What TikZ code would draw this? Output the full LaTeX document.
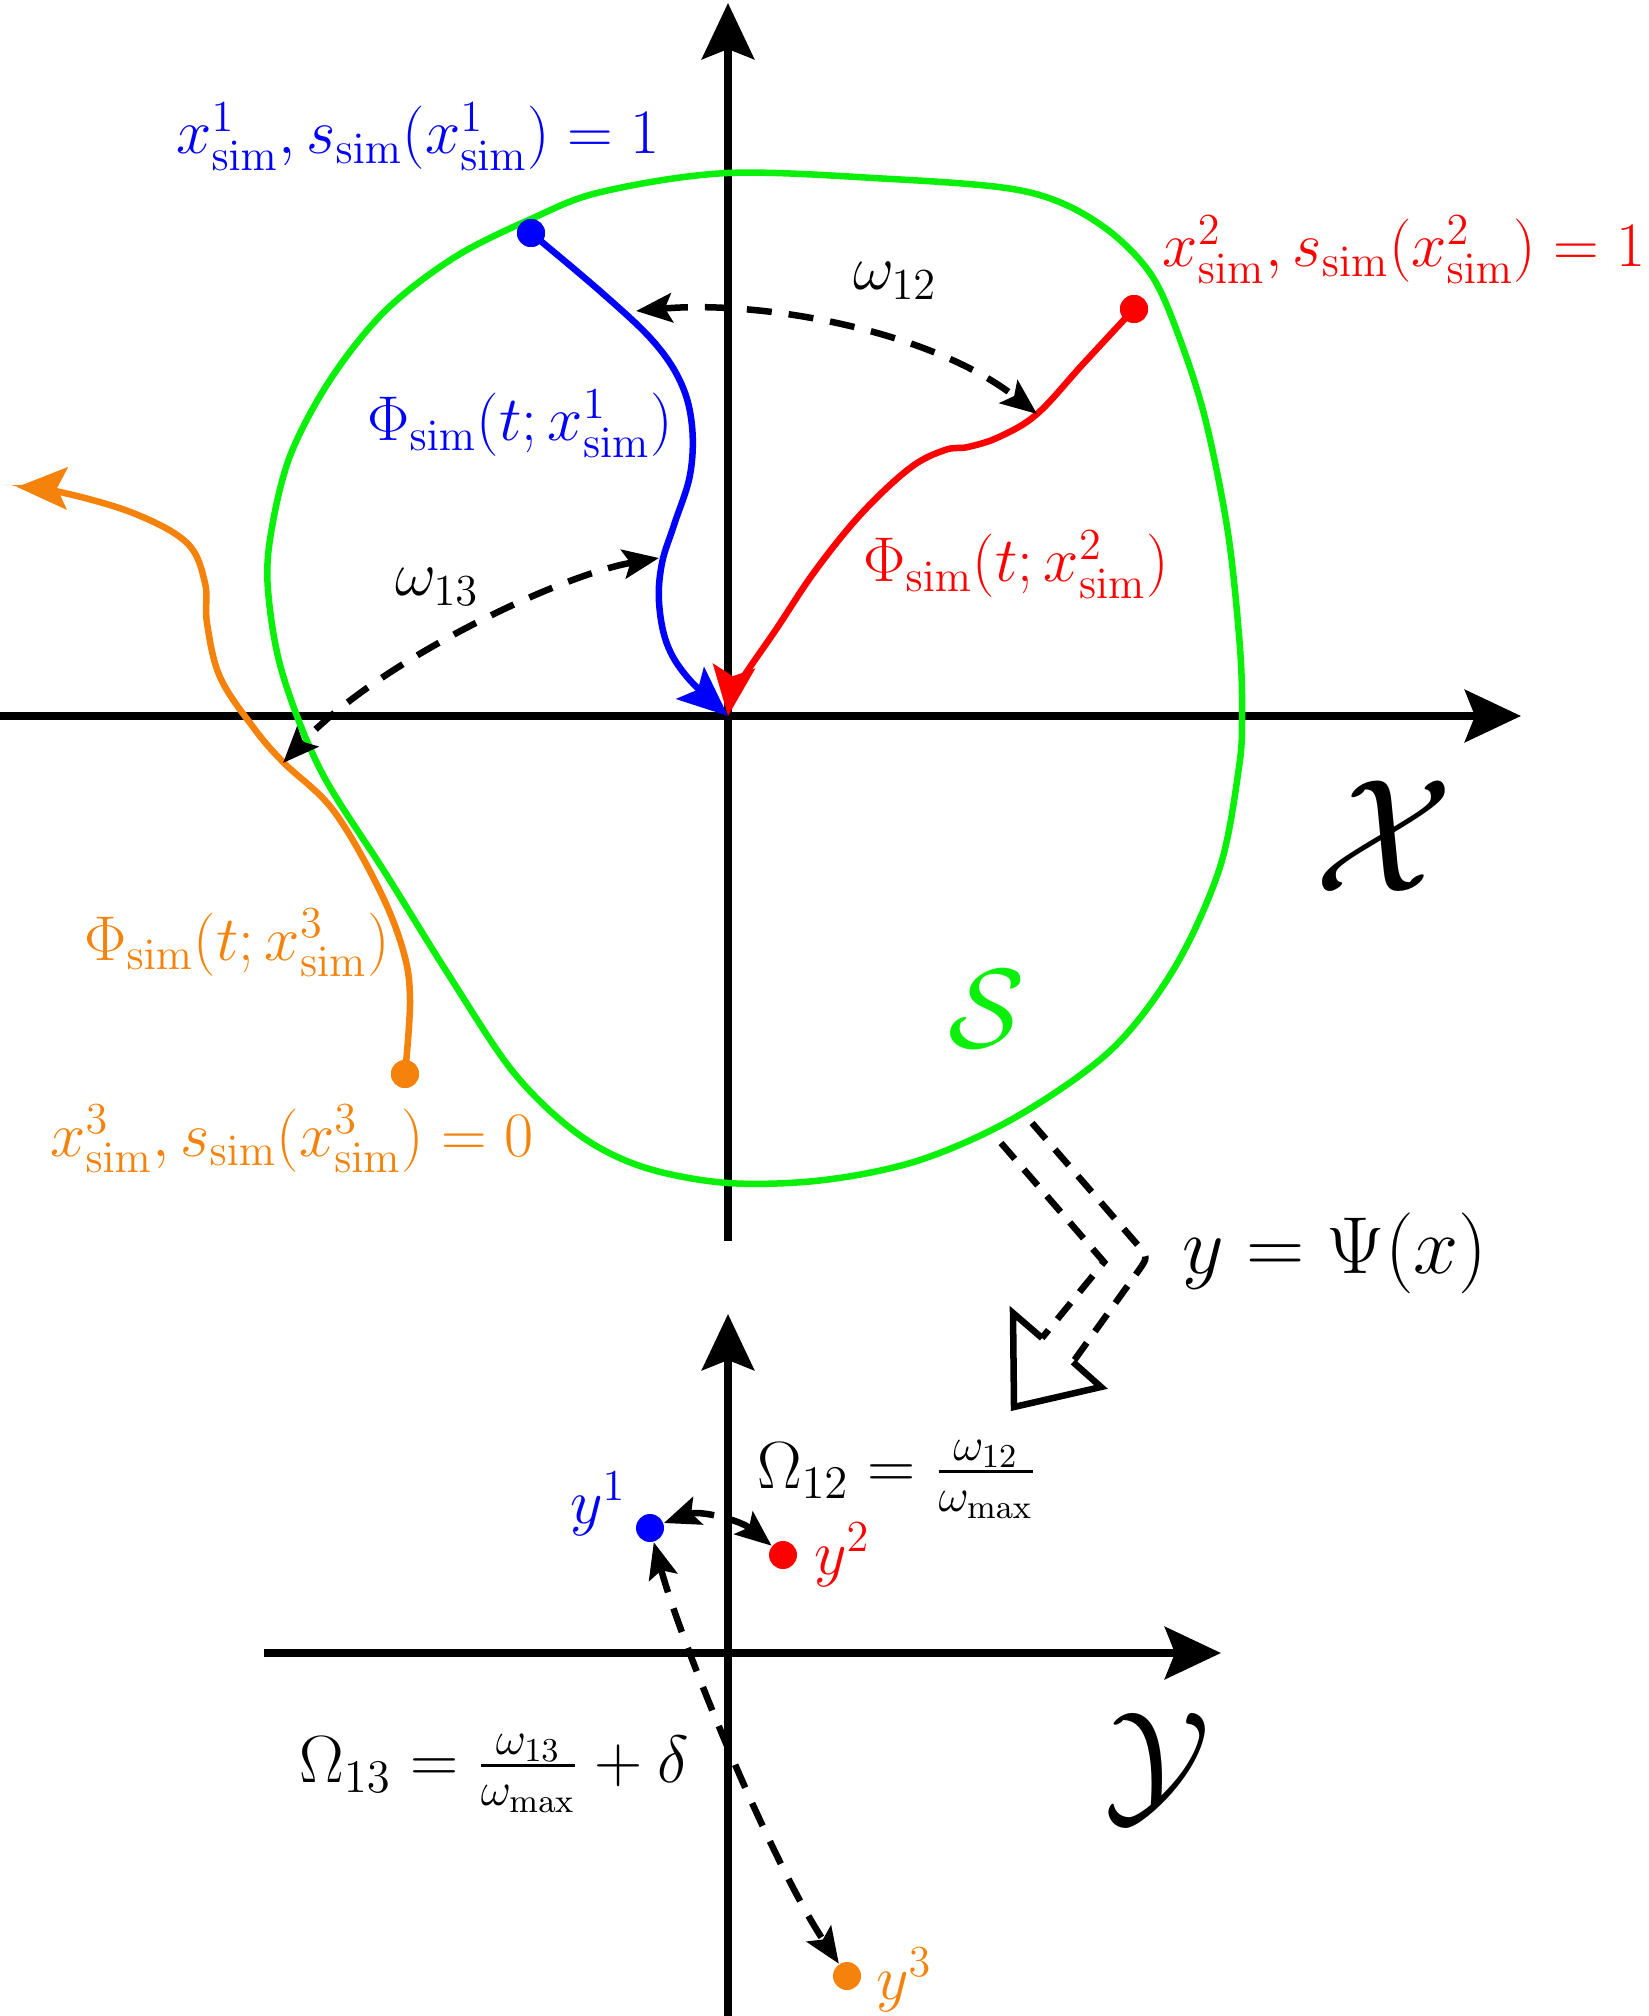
\RequirePackage{fix-cm}
\documentclass[tikz,border=0pt]{standalone}
\usepackage{amsmath}
\usetikzlibrary{arrows.meta}

\definecolor{setgreen}{RGB}{10,240,10}
\definecolor{simorange}{RGB}{245,130,10}

\tikzset{
    axis/.style={line width=0.085cm, -{Stealth[length=0.56cm, width=0.52cm, inset=0.1cm]}},
    traj/.style={line width=0.065cm, -{Stealth[length=0.5cm, width=0.42cm, inset=0.1cm]}},
    dist/.style={line width=0.065cm, dash pattern=on 0.25cm off 0.17cm,
        {Stealth[length=0.36cm, width=0.29cm, inset=0.07cm]}-{Stealth[length=0.36cm, width=0.29cm, inset=0.07cm]}},
    dot/.style={circle, fill=#1, inner sep=0pt, minimum size=0.28cm},
    lbl/.style={inner sep=0pt, font=\fontsize{18}{22}\selectfont},
    space/.style={inner sep=0pt, font=\fontsize{40}{44}\selectfont},
    mapline/.style={line width=0.065cm, dash pattern=on 0.21cm off 0.14cm},
}

\begin{document}
\begin{tikzpicture}[x=0.01cm, y=-0.01cm]
    \useasboundingbox (0,0) rectangle (1648,2016);

    % upper axes (state space)
    \coordinate (o) at (728,716);
    \coordinate (xleft) at (0,716);
    \coordinate (xright) at (1521,716);
    \coordinate (xbottom) at (728,1241);
    \coordinate (xtop) at (728,3);
    \draw[axis] (xleft) -- (xright);
    \draw[axis] (xbottom) -- (xtop);

    % safe set S
    \draw[setgreen, line width=0.065cm] plot[smooth cycle, tension=0.55] coordinates {
        (728,173) (891,179) (1006,188) (1064,204) (1113,234) (1152,276) (1178,334)
        (1205,418) (1228,533) (1240,648) (1242,718) (1239,767) (1220,867) (1175,967)
        (1111,1050) (1016,1117) (920,1160) (824,1180) (728,1183) (643,1167) (578,1134)
        (514,1073) (450,977) (386,874) (321,771) (282,672)
        (268,590) (271,533) (290,456) (330,380) (385,311) (455,257)
        (531,219) (601,192)};

    % initial states
    \node[dot=blue] (x1) at (531,233) {};
    \node[dot=red] (x2) at (1134,309) {};
    \node[dot=simorange] (x3) at (405,1074) {};
    \coordinate (x3end) at (17,487);

    % trajectories
    \draw[traj, blue] plot[smooth, tension=0.6] coordinates {
        (x1.center) (601,292) (653,341) (681,383) (692,426) (690,475) (674,525)
        (662,563) (659,602) (667,644) (688,678) (o)};
    \draw[traj, red] plot[smooth, tension=0.6] coordinates {
        (x2.center) (1083,364) (1037,414) (999,437) (968,447) (945,450) (910,468)
        (861,514) (815,571) (777,628) (738,686) (o)};
    \draw[traj, simorange] plot[smooth, tension=0.6] coordinates {
        (x3.center) (410,1000) (403,950) (378,887) (333,810) (283,762) (253,727)
        (220,677) (207,623) (205,583) (187,543) (133,513) (60,492) (x3end)};
    \node[dot=blue] at (x1) {};
    \node[dot=red] at (x2) {};
    \node[dot=simorange] at (x3) {};

    % distances between trajectories
    \coordinate (w12a) at (636,311);
    \coordinate (w12b) at (1037,414);
    \coordinate (w13a) at (659,558);
    \coordinate (w13b) at (283,763);
    \draw[dist] (w12a) .. controls (760,300) and (930,330) .. (w12b);
    \draw[dist] (w13a) .. controls (560,575) and (380,660) .. (w13b);

    % labels of the state space
    \node[lbl, blue, anchor=base] (lx1) at (418,154) {$x^1_{\mathrm{sim}}, s_{\mathrm{sim}}(x^1_{\mathrm{sim}}) = 1$};
    \node[lbl, red, anchor=base west] (lx2) at (1162,267) {$x^2_{\mathrm{sim}}, s_{\mathrm{sim}}(x^2_{\mathrm{sim}}) = 1$};
    \node[lbl, simorange, anchor=base] (lx3) at (292,1156) {$x^3_{\mathrm{sim}}, s_{\mathrm{sim}}(x^3_{\mathrm{sim}}) = 0$};
    \node[lbl, blue, anchor=base] (lphi1) at (520,441) {$\Phi_{\mathrm{sim}}(t; x^1_{\mathrm{sim}})$};
    \node[lbl, red, anchor=base] (lphi2) at (1016,582) {$\Phi_{\mathrm{sim}}(t; x^2_{\mathrm{sim}})$};
    \node[lbl, simorange, anchor=base] (lphi3) at (237,960) {$\Phi_{\mathrm{sim}}(t; x^3_{\mathrm{sim}})$};
    \node[lbl, anchor=base] (lw12) at (895,290) {$\omega_{12}$};
    \node[lbl, anchor=base] (lw13) at (437,596) {$\omega_{13}$};
    \node[space, font=\fontsize{46}{48}\selectfont] (lX) at (1384,836) {$\mathcal{X}$};
    \node[space, setgreen, font=\fontsize{32}{34}\selectfont] (lS) at (987,1009) {$\mathcal{S}$};

    % mapping arrow
    \draw[mapline] (1032,1123) -- (1136,1243) .. controls (1148,1257) .. (1139,1270) -- (1073,1362);
    \draw[mapline] (1001,1143) -- (1104,1262) -- (1042,1338);
    \draw[line width=0.065cm] (1042,1338) -- (1013,1313) -- (1014,1407) -- (1101,1387) -- (1073,1362);
    \node[lbl, font=\fontsize{23}{27}\selectfont, anchor=base] (lpsi) at (1335,1273) {$y = \Psi(x)$};

    % lower axes (feature space)
    \coordinate (yleft) at (264,1653);
    \coordinate (yright) at (1221,1653);
    \coordinate (ybottom) at (728,2016);
    \coordinate (ytop) at (728,1314);
    \draw[axis] (yleft) -- (yright);
    \draw[axis] (ybottom) -- (ytop);

    % mapped states
    \node[dot=blue] (y1) at (650,1528) {};
    \node[dot=red] (y2) at (783,1555) {};
    \node[dot=simorange] (y3) at (847,1976) {};
    \draw[dist] (y1) .. controls (700,1510) and (740,1520) .. (y2);
    \draw[dist] (y1) .. controls (680,1640) and (770,1860) .. (y3);

    % labels of the feature space
    \node[lbl, blue] (ly1) at (598,1504) {$y^1$};
    \node[lbl, red] (ly2) at (842,1555) {$y^2$};
    \node[lbl, simorange] (ly3) at (904,1980) {$y^3$};
    \node[lbl, font=\fontsize{19}{23}\selectfont, anchor=base] (lo12) at (897,1488) {$\Omega_{12} = \frac{\omega_{12}}{\omega_{\max}}$};
    \node[lbl, font=\fontsize{19}{23}\selectfont, anchor=base] (lo13) at (494,1782) {$\Omega_{13} = \frac{\omega_{13}}{\omega_{\max}} + \delta$};
    \node[space] (lY) at (1157,1768) {$\mathcal{Y}$};
\end{tikzpicture}
\end{document}
